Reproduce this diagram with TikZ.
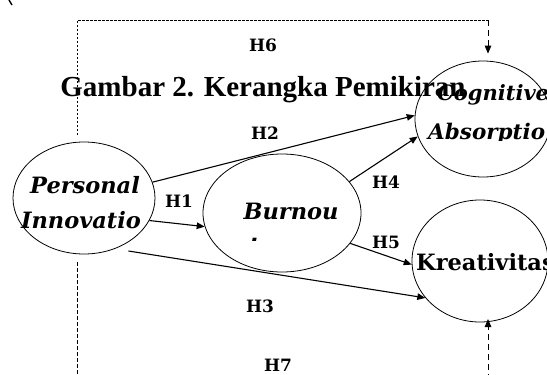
\documentclass[tikz,border=0pt]{standalone}
\usepackage{fontspec}
\setmainfont{DejaVu Serif}
\newfontfamily\titlefont{Liberation Serif}
\usetikzlibrary{arrows.meta,shapes.geometric}
\begin{document}
\begin{tikzpicture}[x=1pt,y=-1pt,
  var/.style={draw, ellipse, line width=0.8pt, inner sep=0pt},
  vtext/.style={font=\fontsize{22.5}{22.5}\selectfont\bfseries\itshape, inner sep=0pt, anchor=base},
  hlab/.style={font=\fontsize{17}{17}\selectfont\bfseries, inner sep=0pt},
  link/.style={line width=1.1pt, -{Triangle[length=8pt,width=6.5pt]}},
  dline/.style={line width=0.7pt, dash pattern=on 2.5pt off 1.5pt},
  darrow/.style={line width=1pt, dash pattern=on 6pt off 4pt, -{Triangle[length=8pt,width=6.5pt]}}]
\useasboundingbox (0,0) rectangle (547,375);

% ellipses
\node[var, minimum width=142pt, minimum height=112pt] (p) at (84,198) {};
\node[var, minimum width=158pt, minimum height=118pt] (b) at (282,213) {};
\node[var, minimum width=136pt, minimum height=116pt] (c) at (483,119) {};
\node[var, minimum width=136pt, minimum height=122pt] (k) at (480,261) {};

% title
\node[font=\titlefont\fontsize{29}{29}\selectfont\bfseries, inner sep=0pt, anchor=base] (title) at (263,96) {Gambar 2. Kerangka Pemikiran};

% texts in ellipses
\node[vtext] (pt1) at (85,193) {Personal};
\node[vtext] (pt2) at (81,228) {Innovatio};
\node[vtext] (bt1) at (291,219) {Burnou};
\begin{scope}
  \clip (240,230) rectangle (270,240.5);
  \node[vtext, anchor=base west] (bt2) at (249,253) {t};
\end{scope}
\node[vtext, font=\fontsize{21}{21}\selectfont\bfseries\itshape, anchor=base west] (ct1) at (437,100) {Cognitive};
\begin{scope}
  \clip (400,102) rectangle (547,140.5);
  \node[vtext, font=\fontsize{21.5}{21.5}\selectfont\bfseries\itshape, anchor=base west] (ct2) at (428,139) {Absorptio};
\end{scope}
\node[font=\fontsize{22.5}{22.5}\selectfont\bfseries, inner sep=0pt, anchor=base west] (kt) at (416,270) {Kreativitas};

% hypothesis labels
\node[hlab] (h6) at (263,45) {H6};
\node[hlab] (h2) at (265,133) {H2};
\node[hlab] (h1) at (179,201) {H1};
\node[hlab] (h4) at (386,182) {H4};
\node[hlab] (h5) at (386,242) {H5};
\node[hlab] (h3) at (260,306) {H3};
\node[hlab] (h7) at (278,365) {H7};

% solid links
\draw[link] (p.13) -- (c.177);
\draw[link] (p.-19) -- (b.190);
\draw[link] ([shift={(5pt,-6pt)}]p.-50) -- (k.214);
\draw[link] (b.25) -- (c.195);
\draw[link] (b.-24) -- (k.183);

% dashed H6
\coordinate (h6a) at (77,135);
\coordinate (h6b) at (488,20);
\draw[dline] (h6a) |- (h6b);
\draw[darrow] (h6b) -- ([yshift=7pt]c.north -| h6b);

% dashed H7
\coordinate (h7a) at (77,262);
\coordinate (h7b) at (77,380);
\coordinate (h7c) at (488,380);
\draw[dline, dash pattern=on 4pt off 2pt] (h7a) -- (h7b);
\draw[darrow] (h7c) -- (488,319);

% small corner mark
\draw[line width=1.4pt] (9,0) -- (12,5);
\end{tikzpicture}
\end{document}
